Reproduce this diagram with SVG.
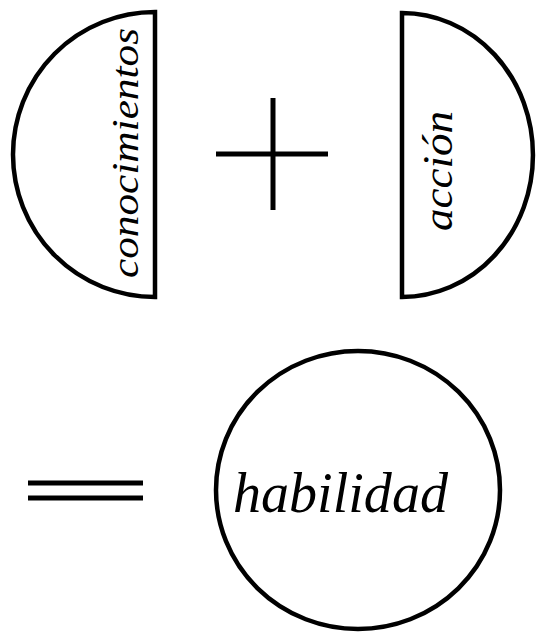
<svg xmlns="http://www.w3.org/2000/svg" width="536" height="636" viewBox="0 0 536 636">
<style>
.shape{fill:#fff;stroke:#000;stroke-width:4.5;stroke-linejoin:miter}
.op{stroke:#000;stroke-width:5;stroke-linecap:butt;fill:none}
.lbl{font-family:"Liberation Serif","DejaVu Serif",serif;font-style:italic;fill:#000}
</style>
<rect width="536" height="636" fill="#fff"/>
<g id="conocimientos">
<path class="shape" d="M155,12 A142,142.5 0 0 0 155,297 Z"/>
<text class="lbl" font-size="38" transform="translate(138,278) rotate(-90)" textLength="250" lengthAdjust="spacingAndGlyphs">conocimientos</text>
</g>
<g id="plus">
<line class="op" x1="216" y1="154" x2="328" y2="154"/>
<line class="op" x1="273" y1="98" x2="273" y2="210"/>
</g>
<g id="accion">
<path class="shape" d="M402,13 A131,142 0 0 1 402,297 Z"/>
<text class="lbl" font-size="42" transform="translate(452,231) rotate(-90)" textLength="120" lengthAdjust="spacingAndGlyphs">acción</text>
</g>
<g id="equals">
<line class="op" x1="28" y1="483" x2="143" y2="483"/>
<line class="op" x1="28" y1="498" x2="143" y2="498"/>
</g>
<g id="habilidad">
<ellipse class="shape" cx="358" cy="490" rx="142" ry="139"/>
<text class="lbl" font-size="56" x="233" y="512" textLength="215" lengthAdjust="spacingAndGlyphs">habilidad</text>
</g>
</svg>
